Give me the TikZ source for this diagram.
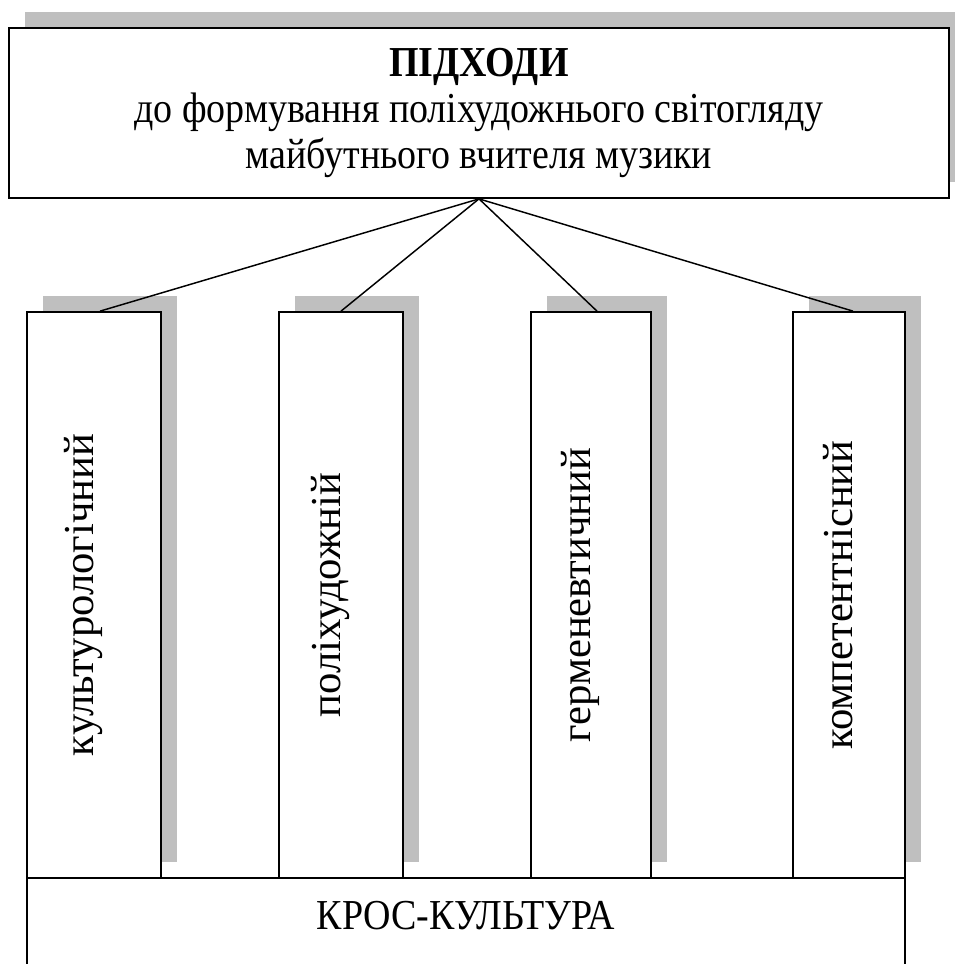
\documentclass[tikz,border=0pt]{standalone}
\usepackage{fontspec}
\setmainfont{Liberation Serif}
\newfontfamily\narrowserif[FakeStretch=0.89]{Liberation Serif}
\usetikzlibrary{positioning,shadows}

\begin{document}
\begin{tikzpicture}
  [x=0.75pt,y=-0.75pt,
  every node/.style={font=\fontsize{32}{34.5}\selectfont},
  title/.style={rectangle,draw=black,fill=white,line width=1.3pt,
inner sep=0pt,minimum width=705pt,minimum height=127.5pt,align=center,
font=\fontsize{32}{34.5}\narrowserif,
drop shadow={shadow xshift=12pt,shadow yshift=12pt,fill=gray!50,opacity=1}},
  approach/.style={rectangle,draw=black,fill=white,line width=1.3pt,
inner sep=0pt,minimum height=424.5pt,
drop shadow={shadow xshift=12pt,shadow yshift=12pt,fill=gray!50,opacity=1}},
  basis/.style={rectangle,draw=black,fill=white,line width=1.3pt,
inner sep=0pt,minimum width=658.5pt,minimum height=105pt},
  vlabel/.style={rotate=90,inner sep=0pt},
  link/.style={line width=1.1pt}]
  \useasboundingbox (0,0) rectangle (954,964);

  \node[title] (top) at (479,113) {\textbf{ПІДХОДИ}\\до формування поліхудожнього світогляду\\майбутнього вчителя музики};

  \node[approach,minimum width=100.5pt] (c1) at (94,595) {};
  \node[approach,minimum width=93pt] (c2) at (341,595) {};
  \node[approach,minimum width=90pt] (c3) at (591,595) {};
  \node[approach,minimum width=84pt] (c4) at (849,595) {};

  \node[vlabel] (l1) at ([xshift=-8pt]c1.center) {культурологічний};
  \node[vlabel] (l2) at ([xshift=-8pt]c2.center) {поліхудожній};
  \node[vlabel] (l3) at ([xshift=-8pt]c3.center) {герменевтичний};
  \node[vlabel] (l4) at ([xshift=-8pt]c4.center) {компетентнісний};

  \node[basis] (cross) at (466,948) {};
  \node (crosstext) [below=29pt of cross.north,inner sep=0pt,anchor=center,
    font=\fontsize{32}{34.5}\narrowserif] {КРОС-КУЛЬТУРА};

  \foreach \c/\d in {c1/4.5pt,c2/0pt,c3/4.5pt,c4/3pt}
    \draw[link] (top.south) -- ([xshift=\d]\c.north);

\end{tikzpicture}
\end{document}
